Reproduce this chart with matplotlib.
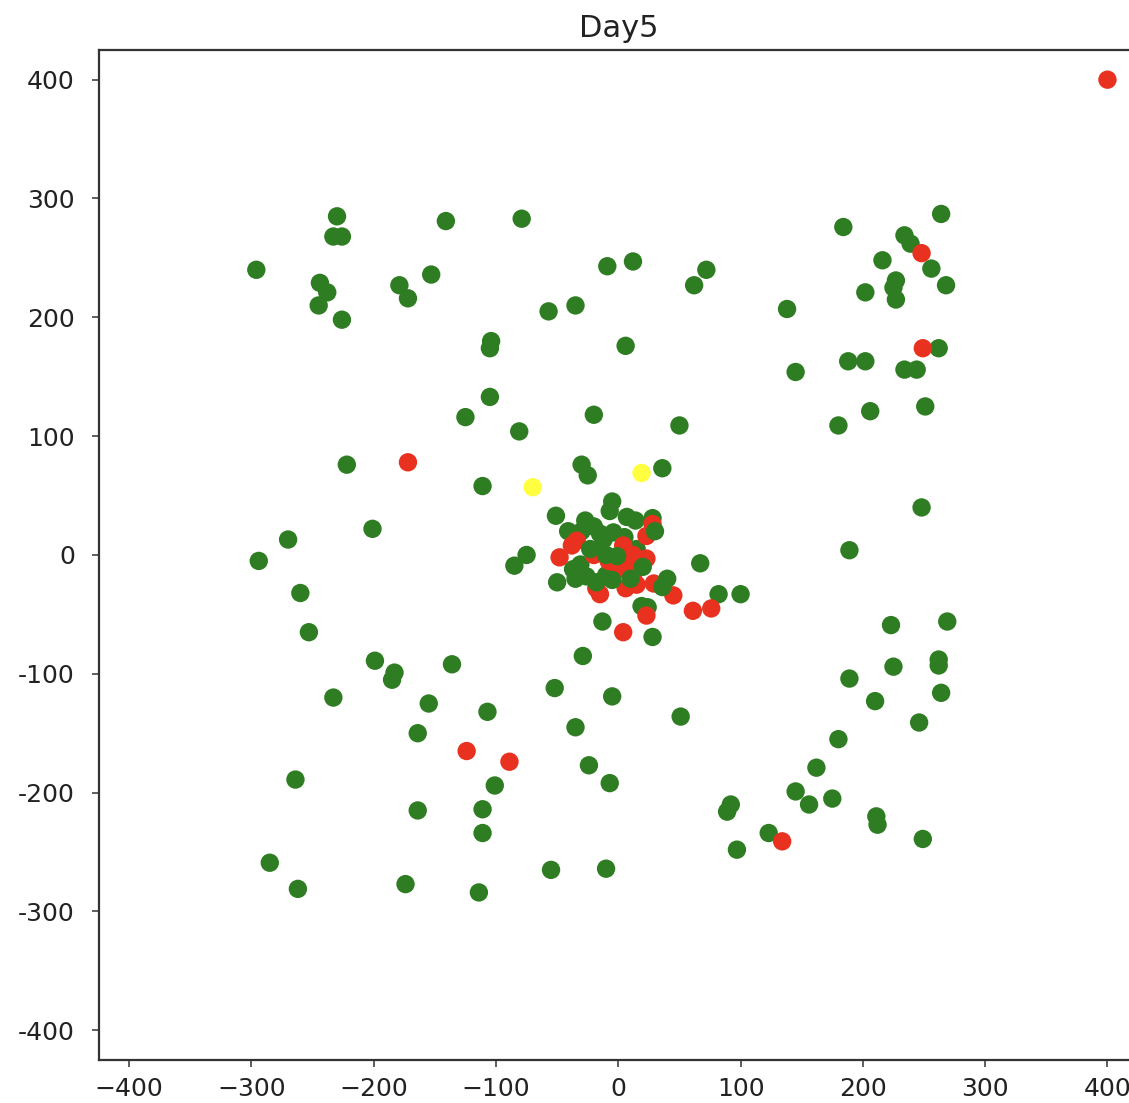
import matplotlib
matplotlib.use("Agg")
import matplotlib.pyplot as plt

title = "Day5"

# Point coordinates (drawn in this order) and state of each point
xs = [
    # outer green (top-left)
    -296, -230, -233, -226, -244, -238, -245, -226, -179, -172, -153, -141, -79, -9, 12,
    -57, -35, -104, -105, 6, 72, 62, -125, -105, -81, -20, 50, -222, -111, 36, -30, -25,
    # outer green (top-right)
    184, 264, 234, 239, 216, 227, 225, 256, 268, 202, 227, 138, 262, 145, 188, 202, 234,
    244, 251, 206, 180, 248, 189,
    # outer green (left / bottom)
    -201, -270, -294, -260, -253, -199, -183, -185, -233, -155, -136, -164, -107, -101,
    -264, -164, -111, -111, -285, -262, -174, -114, -55, -10,
    -52, -29, -35, -24, -7, -5, 51,
    # outer green (right / bottom)
    223, 269, 262, 262, 225, 264, 210, 189, 246, 180, 162, 145, 156, 175, 211, 212, 249,
    92, 89, 97, 123,
    # center green (under)
    -51, -5, -7, -41, -27, -20, 7, 14, 28, -75, -85, -12, -31, -37,
    -50, 67, 82, 100, 19, 24, -13, 28, -17, -4, -10,
    -30, -15, 5, -35, 15,
    # center red
    28, 23, -34, -38, -48, 4, 7, 12, 23, 6, -15, -18, 29, 45, 23, 4, -8, 0,
    -20, 12, 15,
    # center green (over)
    30, -23, 20, -5, 36, 40, -1, -26, -18, -10, 10,
    # outer red
    61, 76, -172, 248, 249, -124, -89, 134, 400,
    # yellow
    -70, 19,
]
ys = [
    240, 285, 268, 268, 229, 221, 210, 198, 227, 216, 236, 281, 283, 243, 247,
    205, 210, 180, 174, 176, 240, 227, 116, 133, 104, 118, 109, 76, 58, 73, 76, 67,
    276, 287, 269, 262, 248, 231, 225, 241, 227, 221, 215, 207, 174, 154, 163, 163, 156,
    156, 125, 121, 109, 40, 4,
    22, 13, -5, -32, -65, -89, -99, -105, -120, -125, -92, -150, -132, -194,
    -189, -215, -214, -234, -259, -281, -277, -284, -265, -264,
    -112, -85, -145, -177, -192, -119, -136,
    -59, -56, -88, -93, -94, -116, -123, -104, -141, -155, -179, -199, -210, -205, -220, -227, -239,
    -210, -216, -248, -234,
    33, 45, 37, 20, 29, 24, 32, 29, 31, 0, -9, 13, -8, -12,
    -23, -7, -33, -33, -43, -44, -56, -69, 3, 19, -17,
    20, 18, 15, -20, 5,
    26, 16, 12, 8, -2, 8, -6, -17, -3, -28, -33, -28, -24, -34, -51, -65, -5, -12,
    0, 0, -25,
    20, 5, -10, -21, -27, -20, -1, -18, -23, 0, -20,
    -47, -45, 78, 254, 174, -165, -174, -241, 400,
    57, 69,
]
states = (["S"] * 32 + ["S"] * 23 + ["S"] * 31 + ["S"] * 21
          + ["S"] * 30 + ["I"] * 21 + ["S"] * 11 + ["I"] * 9 + ["E"] * 2)

state_colors = {"S": "#2e7d22", "I": "#e8321f", "E": "#ffff40"}

fig = plt.figure(figsize=(11.29, 11.03), dpi=100)
ax = fig.add_axes([0.0873, 0.039, 0.9207, 0.9157])

ax.scatter(xs, ys, c=[state_colors[s] for s in states], s=175, linewidths=0)

ax.set_xlim(-425, 425)
ax.set_ylim(-425, 425)
ticks = [-400, -300, -200, -100, 0, 100, 200, 300, 400]
ax.set_xticks(ticks)
ax.set_yticks(ticks)
ax.set_yticklabels([str(t) for t in ticks])

ax.tick_params(axis="both", labelsize=18, length=5, width=1.1, color="#333333",
               labelcolor="#222222")
ax.tick_params(axis="y", pad=12)
ax.tick_params(axis="x", pad=7)
for sp in ax.spines.values():
    sp.set_linewidth(1.6)
    sp.set_color("#333333")

ax.set_title(title, fontsize=22, pad=9, color="#222222")

fig.savefig("out.png", dpi=100)
